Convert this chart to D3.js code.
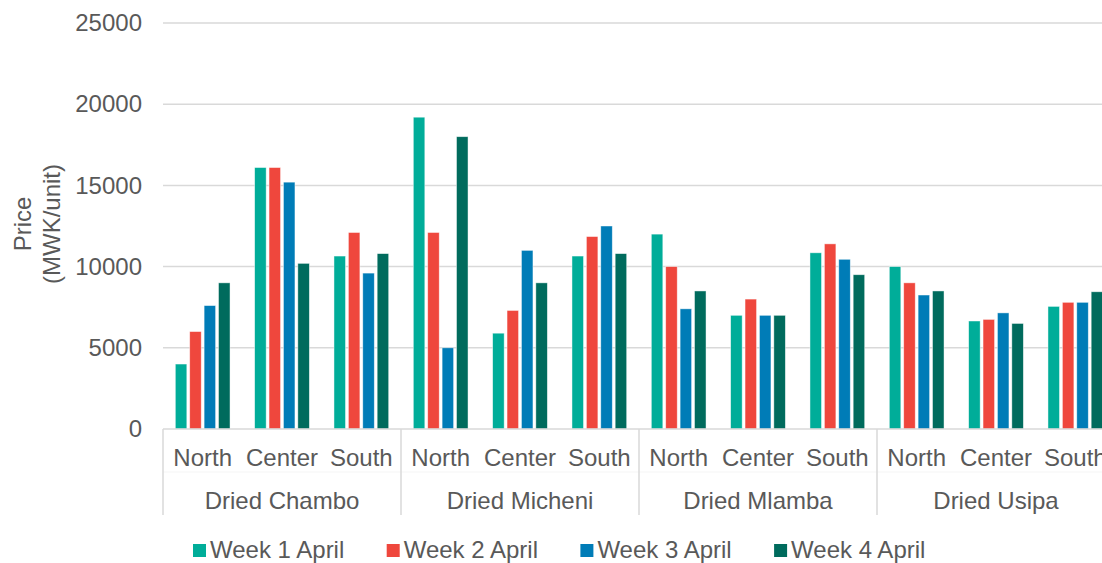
<!DOCTYPE html>
<html>
<head>
<meta charset="utf-8">
<script src="https://cdn.jsdelivr.net/npm/d3@7"></script>
<style>
  html, body { margin: 0; padding: 0; background: #fff; }
  svg { display: block; font-family: "Liberation Sans", Arial, sans-serif; }
  .grid line { stroke: #d9d9d9; stroke-width: 1.5; }
  .tick-label { fill: #595959; font-size: 24px; }
</style>
</head>
<body>
<div id="chart"></div>
<script>
(function (d3) {
    'use strict';

    var groups = ['Dried Chambo', 'Dried Micheni', 'Dried Mlamba', 'Dried Usipa'];
    var regions = ['North', 'Center', 'South'];
    var series = ['Week 1 April', 'Week 2 April', 'Week 3 April', 'Week 4 April'];
    var colors = ['#00ad99', '#ef473d', '#007cb7', '#006b5d'];
    var yTicks = [0, 5000, 10000, 15000, 20000, 25000];

    // one array per week, in order group x region
    var week1 = [4000, 16100, 10650, 19200, 5900, 10650, 12000, 7000, 10850, 10000, 6650, 7550];
    var week2 = [6000, 16100, 12100, 12100, 7300, 11850, 10000, 8000, 11400, 9000, 6750, 7800];
    var week3 = [7600, 15200, 9600, 5000, 11000, 12500, 7400, 7000, 10450, 8250, 7150, 7800];
    var week4 = [9000, 10200, 10800, 18000, 9000, 10800, 8500, 7000, 9500, 8500, 6500, 8450];
    var values = [week1, week2, week3, week4];

    // Dimensions of the chart.
    var width = 1102;
    var height = 563;
    var plotLeft = 163;
    var groupWidth = 238;

    var svg = d3.select('#chart').append('svg')
        .attr('width', width)
        .attr('height', height);

    // Scales.
    var x0 = d3.scaleBand().domain(groups).range([plotLeft, plotLeft + groupWidth * groups.length]);
    var x1 = d3.scaleBand().domain(regions).range([0, x0.bandwidth()]);
    var x2 = d3.scaleBand().domain(series).range([0, x1.bandwidth()])
        .paddingInner(0.2).paddingOuter(0.855);
    var y = d3.scaleLinear().domain([0, 25000]).range([429, 23]);

    // Gridlines.
    svg.append('g')
        .attr('class', 'grid')
        .selectAll('line')
        .data(yTicks.slice(1))
        .enter().append('line')
        .attr('x1', plotLeft)
        .attr('x2', width)
        .attr('y1', function (d) { return y(d); })
        .attr('y2', function (d) { return y(d); });

    // Y axis labels.
    var yAxis = d3.axisLeft(y).tickValues(yTicks).tickFormat(d3.format('d')).tickSize(0).tickPadding(21);
    var yg = svg.append('g')
        .attr('transform', 'translate(' + plotLeft + ',0)')
        .call(yAxis);
    yg.select('.domain').remove();
    yg.selectAll('text')
        .attr('class', 'tick-label')
        .attr('font-family', null)
        .attr('font-size', null);

    // Y axis title.
    var title = svg.append('text')
        .attr('class', 'tick-label')
        .attr('transform', 'translate(0,224) rotate(-90)')
        .attr('text-anchor', 'middle');
    title.append('tspan').attr('x', 0).attr('y', 31).text('Price');
    title.append('tspan').attr('x', 0).attr('y', 60).text('(MWK/unit)');

    // Bars.
    var rows = [];
    groups.forEach(function (g, gi) {
        regions.forEach(function (r, ri) {
            series.forEach(function (s, si) {
                rows.push({group: g, region: r, week: s, idx: si, value: values[si][gi * regions.length + ri]});
            });
        });
    });

    svg.append('g')
        .selectAll('rect')
        .data(rows)
        .enter().append('rect')
        .attr('x', function (d) { return x0(d.group) + x1(d.region) + x2(d.week); })
        .attr('width', x2.bandwidth())
        .attr('y', function (d) { return y(d.value); })
        .attr('height', function (d) { return y(0) - y(d.value); })
        .attr('fill', function (d) { return colors[d.idx]; })
        .attr('stroke', '#ffffff')
        .attr('stroke-opacity', 0.6)
        .attr('stroke-width', 0.75);

    // Category axis.
    var axis = svg.append('g').attr('class', 'grid');
    axis.append('line')
        .attr('x1', plotLeft).attr('x2', width)
        .attr('y1', y(0)).attr('y2', y(0));
    axis.append('line')
        .attr('x1', plotLeft).attr('x2', width)
        .attr('y1', 472).attr('y2', 472)
        .style('stroke', '#f5f5f5')
        .style('stroke-width', 1);
    axis.selectAll('.sep')
        .data(groups.concat(['end']))
        .enter().append('line')
        .attr('class', 'sep')
        .attr('x1', function (d, i) { return plotLeft + i * x0.bandwidth(); })
        .attr('x2', function (d, i) { return plotLeft + i * x0.bandwidth(); })
        .attr('y1', y(0))
        .attr('y2', 515);

    groups.forEach(function (g) {
        svg.append('g')
            .selectAll('text')
            .data(regions)
            .enter().append('text')
            .attr('class', 'tick-label')
            .attr('text-anchor', 'middle')
            .attr('x', function (r) { return x0(g) + x1(r) + x1.bandwidth() / 2; })
            .attr('y', 466)
            .text(function (r) { return r; });
    });

    svg.append('g')
        .selectAll('text')
        .data(groups)
        .enter().append('text')
        .attr('class', 'tick-label')
        .attr('text-anchor', 'middle')
        .attr('x', function (g) { return x0(g) + x0.bandwidth() / 2; })
        .attr('y', 509)
        .text(function (g) { return g; });

    // Legend.
    var legend = svg.append('g')
        .selectAll('g')
        .data(series)
        .enter().append('g')
        .attr('transform', function (d, i) { return 'translate(' + (193 + i * 193.7) + ',544)'; });
    legend.append('rect')
        .attr('width', 13)
        .attr('height', 13)
        .attr('fill', function (d, i) { return colors[i]; });
    legend.append('text')
        .attr('class', 'tick-label')
        .attr('x', 17)
        .attr('y', 14)
        .text(function (d) { return d; });
})(d3);
</script>
</body>
</html>
